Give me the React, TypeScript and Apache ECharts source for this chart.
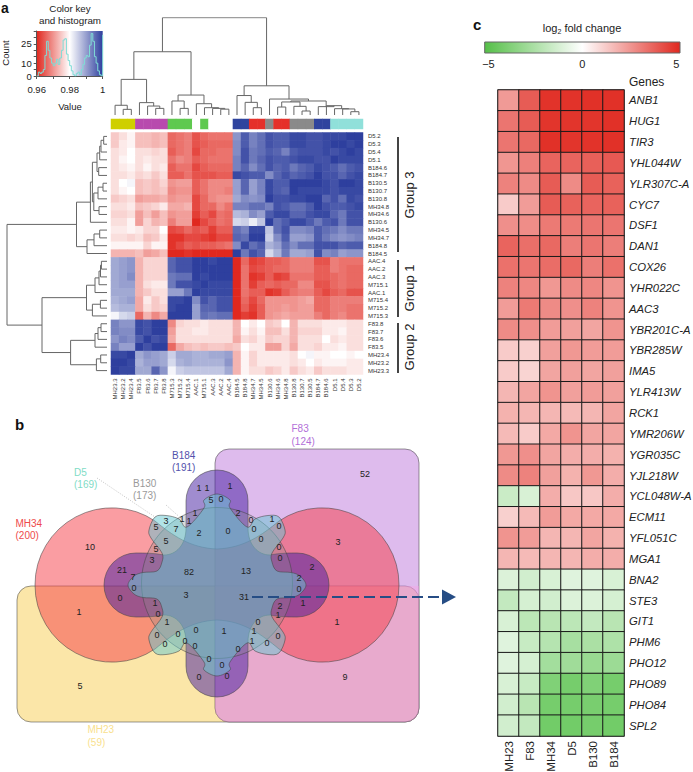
import React, { useEffect, useRef } from "react";
import * as echarts from "echarts";

const FONT = "'Liberation Sans', Arial, sans-serif";

// ---------- panel a data ----------
const sampleRows = ["D5.2","D5.3","D5.4","D5.1","B184.6","B184.7","B130.5","B130.7","B130.8","MH34.8","MH34.6","B130.6","MH34.5","MH34.7","B184.8","B184.5","AAC.4","AAC.2","AAC.3","M715.1","AAC.1","M715.4","M715.2","M715.3","F83.8","F83.7","F83.6","F83.5","MH23.4","MH23.2","MH23.3"];
const sampleCols = [...sampleRows].reverse();
// thousandths away from a correlation of 0.98 (negative: red, positive: blue)
const corrRows = [
[-5,-3,-1,-6,-6,-7,-6,-14,-13,-12,-16,-14,-13,-13,-13,11,17,13,15,18,17,17,19,19,18,18,19,19,19,20,20],
[-5,-2,-1,-6,-6,-7,-6,-14,-13,-12,-16,-15,-14,-14,-14,12,17,13,15,18,17,17,19,19,18,18,19,20,20,19,20],
[-3,-2,0,-3,-3,-4,-3,-15,-13,-12,-17,-14,-14,-13,-13,12,18,14,15,17,16,13,17,18,18,18,19,18,19,20,19],
[-3,-1,0,-3,-2,-3,-3,-13,-11,-12,-15,-14,-13,-13,-13,13,18,14,16,18,17,17,18,19,19,18,18,20,19,19,19],
[-3,-2,-1,-3,-1,-3,-2,-15,-13,-13,-17,-15,-14,-14,-14,13,16,12,15,18,16,17,14,16,17,19,18,17,15,17,18],
[-3,-3,-2,-4,-3,-5,-3,-15,-15,-13,-16,-16,-16,-15,-15,19,18,17,17,12,16,18,16,17,18,20,18,18,16,18,19],
[-3,0,1,-6,-5,-6,-4,-10,-9,-9,-15,-13,-11,-11,-11,10,16,10,13,19,17,17,20,20,20,20,19,18,20,20,19],
[-3,-1,0,-6,-5,-6,-5,-11,-10,-10,-15,-13,-11,-11,-12,10,16,10,13,19,17,16,20,19,19,19,19,18,19,19,19],
[-5,-4,-3,-9,-8,-8,-7,-10,-9,-9,-17,-14,-11,-10,-10,9,12,11,12,20,18,18,19,19,20,20,16,18,15,19,18],
[-3,-3,-2,-6,-5,-4,-2,-8,-8,-7,-17,-14,-14,-11,-13,13,13,15,15,13,18,17,15,15,17,20,18,17,17,18,19],
[-4,-4,-3,-9,-6,-9,-6,-10,-9,-9,-18,-15,-17,-13,-14,7,8,12,10,17,19,19,16,16,18,19,19,16,14,18,18],
[-3,-3,-1,-9,-4,-7,-6,-12,-9,-9,-20,-17,-15,-13,-14,4,5,2,6,20,15,17,19,19,17,14,17,18,14,18,18],
[-2,-2,-1,-2,-4,-4,0,-17,-16,-14,-16,-15,-18,-15,-15,15,13,19,19,6,15,18,12,12,13,17,15,14,12,14,14],
[-3,-3,-4,-3,-6,-5,-2,-19,-19,-17,-17,-18,-19,-17,-17,16,15,20,20,5,12,17,10,10,11,17,14,12,11,12,13],
[-1,-1,-1,-1,-4,-1,-1,-19,-17,-15,-16,-15,-15,-14,-13,12,19,15,17,8,10,15,12,15,15,18,18,18,16,17,17],
[-7,-7,-7,-6,-9,-8,-6,-20,-20,-19,-20,-20,-20,-20,-20,20,14,18,16,4,8,14,9,9,10,18,12,13,10,11,11],
[9,10,11,-7,-4,-4,-4,16,18,18,20,20,19,20,20,-20,-14,-18,-17,-15,-15,-14,-12,-12,-12,-16,-16,-12,-13,-13,-13],
[9,10,11,-7,-4,-4,-4,16,18,18,20,20,20,20,20,-20,-13,-17,-16,-15,-14,-14,-12,-12,-12,-15,-15,-12,-13,-14,-14],
[9,10,12,-7,-4,-4,-4,14,15,15,20,19,20,20,20,-20,-13,-19,-18,-15,-18,-17,-13,-13,-13,-15,-15,-14,-13,-14,-14],
[9,10,10,-7,-3,-2,-2,14,18,18,19,20,19,19,19,-20,-13,-18,-15,-14,-15,-14,-14,-11,-11,-16,-16,-14,-13,-14,-14],
[9,9,9,-7,-5,-3,-3,10,10,14,20,19,19,19,19,-20,-13,-15,-15,-19,-18,-15,-13,-12,-12,-15,-17,-15,-14,-16,-16],
[8,9,10,-8,-2,-5,-3,19,19,20,12,18,16,18,18,-20,-14,-17,-14,-10,-10,-10,-10,-9,-8,-14,-14,-12,-12,-12,-12],
[7,8,8,-8,-3,-5,-4,19,20,20,10,16,16,18,18,-20,-15,-18,-15,-10,-10,-9,-10,-9,-9,-14,-14,-12,-12,-13,-13],
[1,4,5,-14,-7,-11,-8,20,20,20,10,15,14,15,15,-20,-18,-19,-15,-10,-9,-8,-9,-9,-9,-12,-14,-12,-11,-13,-13],
[13,11,11,19,18,20,20,-11,-4,-3,-3,-2,-3,-3,-3,-7,0,-2,0,-5,-4,0,-7,-3,-3,-3,-2,-2,-2,-3,-3],
[13,12,12,19,18,20,20,-9,-3,-3,-2,-2,-3,-3,-3,-7,-1,-3,-1,-6,-6,-3,-7,-4,-4,-4,-2,-2,-1,-3,-3],
[11,13,12,17,20,18,19,-8,-3,-3,-3,-3,-3,-3,-3,-8,-3,-4,-2,-5,-4,-4,-7,-3,-3,-3,0,-3,-2,-3,-3],
[13,10,10,20,18,20,20,-14,-8,-6,-5,-6,-5,-5,-6,-5,0,-2,-2,-9,-9,-4,-8,-3,-3,-4,-2,-2,-1,-3,-3],
[19,19,20,9,11,10,9,5,9,9,8,8,9,9,10,-7,-1,-4,-2,-2,-2,-2,-3,0,1,-1,-1,0,0,-1,0],
[20,20,19,8,10,10,9,4,8,9,8,8,8,8,11,-7,-1,-4,-2,-2,-2,-2,-3,-2,0,-2,-1,-1,-1,-2,-2],
[20,19,19,9,9,16,11,1,5,6,6,6,6,6,9,-7,-1,-3,-3,-5,-4,-2,-5,-3,-2,-5,-3,-3,-3,-2,-2],
];
const clusterPalette = ["#ffffff","#cfcf00","#b84aae","#5fc94f","#2f449e","#e5302a","#8a8a8a","#90e0da"];
const clusterCodes = [1,1,1,2,2,2,2,3,3,3,0,3,0,0,0,4,4,5,5,6,5,5,6,6,6,4,4,7,7,7,7];
const histCounts = [0,3,2,3,5,16,27,20,14,10,8,10,13,9,14,20,28,29,17,12,8,4,1,0,2,3,1,5,9,14,16,15,24,33,27,15,10,4,1,0,32];

type Tree = number | [number, Tree, Tree];
// [merge height, left branch, right branch]; leaves are positions along the heat map
const topTree: Tree = [100,
  [65,
    [36.6, [10, 0, [5.8, 1, 2]], [12.7, 3, [9.2, 4, [6.8, 5, 6]]]],
    [20.5, [14.4, 7, [6.8, 8, 9]], [11.6, 10, [7.5, 11, [6.8, 12, [6, 13, 14]]]]]],
  [30,
    [20, 15, [13, 16, [7.5, 17, 18]]],
    [16.4, 19, [14.4, [13.4, [8.2, 20, 21], [8.9, 22, [4.1, 23, 24]]],
      [8.6, 25, [9.6, 26, [6.5, 27, [6.2, 28, [3.4, 29, 30]]]]]]]]];
const sideTree: Tree = [100,
  [30.5,
    [16.6,
      [14.6,
        [10, [7.3, [6, [3.3, 0, 1], 2], 3], [8.3, 4, 5]],
        [13.2, [9, [4, 6, 7], 8], [8, 9, 10]]],
      11],
    [20, [13, [7.3, 12, 13], 14], 15]],
  [65,
    [20.5,
      [12, [8, [6.5, [5.6, 16, 17], 18], 19], 20],
      [14.6, [6.6, 21, 22], 23]],
    [36.4,
      [12, [9, [6, 24, 25], 26], 27],
      [10.6, [6.3, 28, 29], 30]]]];

// ---------- panel b data ----------
const vennSets = [
  { name: "MH23", size: 59 }, { name: "F83", size: 124 }, { name: "MH34", size: 200 },
  { name: "B184", size: 191 }, { name: "B130", size: 173 }, { name: "D5", size: 169 },
];
const vennCounts = [1,1,1,5,0,2,3,5,1,1,1,7,2,0,5,5,3,10,21,7,0,82,3,0,1,1,52,3,0,1,0,0,0,0,0,2,13,2,0,31,2,1,1,1,0,1,0,1,0,0,9,0,1,0,0,0,0,0,0,1,0,0,0,0,5];
const vennAnchors = [[199,488],[207,488],[230,486],[211,500],[221,499],[238,513],[166,521],[156,527],[182,519],[189,521],[195,513],[176,529],[199,533],[228,531],[166,541],[156,549],[152,560],[90,547],[122,570],[133,577],[134,588],[189,572],[186,595],[120,598],[155,603],[79,612],[365,474],[338,542],[251,520],[272,519],[279,526],[254,529],[261,539],[279,547],[280,558],[312,567],[246,571],[299,578],[299,589],[244,597],[280,606],[303,603],[278,615],[337,622],[258,622],[254,631],[278,636],[252,641],[267,643],[238,649],[345,677],[158,614],[167,622],[157,635],[178,634],[165,644],[185,641],[196,630],[195,646],[224,631],[209,659],[222,665],[199,677],[227,676],[80,686]];

// ---------- panel c data ----------
const geneNames = ["ANB1","HUG1","TIR3","YHL044W","YLR307C-A","CYC7","DSF1","DAN1","COX26","YHR022C","AAC3","YBR201C-A","YBR285W","IMA5","YLR413W","RCK1","YMR206W","YGR035C","YJL218W","YCL048W-A","ECM11","YFL051C","MGA1","BNA2","STE3","GIT1","PHM6","PHO12","PHO89","PHO84","SPL2"];
const strainNames = ["MH23","F83","MH34","D5","B130","B184"];
const foldRows = [
[2.35,3.8,4.75,4.75,4.8,4.8],[3.2,3.8,4.7,4.7,4.7,4.8],[3.2,3.5,4.8,4.7,4.75,4.8],[2.45,2.95,3.6,3.6,3.7,3.85],
[2.9,2.7,3.8,2.7,3.8,3.65],[1.2,2.3,3.8,3.65,3.6,3.65],[2.6,2.65,3.1,3.1,3.2,3.2],[3.6,3.35,3.5,3,3.2,3],
[3.3,3.2,3.4,3.5,3,3.3],[2.9,2.8,2.4,2.7,2.8,2.5],[2.3,3.1,2.7,2.6,2.9,2.5],[2.7,2.6,2.3,2.2,2.1,2.5],
[1.2,1.1,2.2,2.4,2.3,2.3],[1.2,1,2.1,2.2,2.1,2.2],[1.7,2.1,2.5,2.2,2.3,2.2],[1.8,1.7,1.7,1.6,1.7,2.1],
[1.6,1.2,2,2.5,2.1,2.1],[2.4,2.6,2.1,1.9,1.9,1.8],[2.7,2.9,2.2,1.8,2.4,1.9],[-1.5,-1.1,1.9,1.3,1.3,1.9],
[1.1,1.6,2.3,2,2,2],[2.5,2.3,1.7,1.7,2.1,1.8],[1.7,1.6,1.7,1.7,1.9,1.9],[-1,-1.3,-1.1,-0.9,-0.9,-1.1],
[-1.7,-1.2,-1.3,-1,-1,-1.2],[-1.1,-1.9,-2,-1.9,-1.7,-2],[-0.9,-1.6,-2.1,-2.5,-2.4,-2.3],[-0.9,-1.2,-2.6,-2.7,-2.9,-2.8],
[-1.1,-1.6,-3.6,-3.9,-3.6,-3.9],[-1.3,-2,-3.9,-3.9,-3.8,-3.9],[-1.3,-1.7,-4,-4,-3.9,-4],
];

// ---------- helpers ----------
function dendro(node: Tree, out: number[][][]): { pos: number; h: number } {
  if (typeof node === "number") return { pos: node + 0.5, h: 0 };
  const a = dendro(node[1], out);
  const b = dendro(node[2], out);
  out.push([[a.pos, a.h], [a.pos, node[0]], [b.pos, node[0]], [b.pos, b.h]]);
  return { pos: (a.pos + b.pos) / 2, h: node[0] };
}
function catmull(points: number[][]): string {
  const n = points.length;
  let d = `M${points[0][0]},${points[0][1]}`;
  for (let i = 0; i < n; i++) {
    const p0 = points[(i - 1 + n) % n], p1 = points[i], p2 = points[(i + 1) % n], p3 = points[(i + 2) % n];
    d += `C${p1[0] + (p2[0] - p0[0]) / 6},${p1[1] + (p2[1] - p0[1]) / 6},${p2[0] - (p3[0] - p1[0]) / 6},${p2[1] - (p3[1] - p1[1]) / 6},${p2[0]},${p2[1]}`;
  }
  return d + "Z";
}
const d5Octant = [[-89,0],[-83,-9],[-74,-12.5],[-60,-14],[-55,-23],[-55,-32],[-66,-47],[-68,-55],[-62,-68],[-51,-69.5],[-38,-66],[-30,-58],[-13,-77],[-13,-85]];
function d5Path(cx: number, cy: number): string {
  const nw = d5Octant;
  const ne = [[0,-91],...[...nw].reverse().slice(0,-1).map((p) => [-p[0], p[1]])];
  const se = [[89,0],...nw.slice(1).map((p) => [-p[0], -p[1]])];
  const sw = [[0,91],...[...nw].reverse().slice(0,-1).map((p) => [p[0], -p[1]])];
  return catmull([...nw, ...ne, ...se, ...sw].map((p) => [p[0] + cx, p[1] + cy]));
}
const redPath = "M35 585A77 77 0 0 1 155 521C172 535 190 548 217 549C244 548 262 535 279 521A77 77 0 0 1 399 585A77 77 0 0 1 279 649C262 635 244 621 217 620C190 621 172 635 155 649A77 77 0 0 1 35 585Z";
const crossPath = "M186 501A31 31 0 0 1 248 501L248 528C248 545 258 555 270 555C280 553 290 553 297 553A32 32 0 0 1 297 617C290 617 280 617 270 615C258 615 248 625 248 642L248 666A31 31 0 0 1 186 666L186 642C186 625 176 615 164 615C154 617 144 617 136 617A32 32 0 0 1 136 553C144 553 154 553 164 555C176 555 186 545 186 528Z";
echarts.graphic.registerShape("vennRed", echarts.graphic.extendPath(redPath, {}) as any);
echarts.graphic.registerShape("vennCross", echarts.graphic.extendPath(crossPath, {}) as any);
echarts.graphic.registerShape("vennCog", echarts.graphic.extendPath(d5Path(217, 585), {}) as any);

const txt = (text: string, x: number, y: number, size: number, color = "#222", extra: any = {}) => ({
  type: "text", x, y, silent: true, rotation: extra.rotation || 0,
  style: { text, fontSize: size, fontFamily: FONT, fill: color, align: extra.align || "center", verticalAlign: "middle", fontWeight: extra.weight || "normal", rich: extra.rich },
});
const edge = "rgba(70,70,70,0.55)";

function buildOption(): any {
  const topSegs: number[][][] = [], sideSegs: number[][][] = [];
  dendro(topTree, topSegs);
  dendro(sideTree, sideSegs);

  const corrData: number[][] = [];
  corrRows.forEach((row, r) => row.forEach((v, c) => corrData.push([c, r, 0.98 + v / 1000])));
  const foldData: number[][] = [];
  foldRows.forEach((row, r) => row.forEach((v, c) => foldData.push([c, r, v])));

  const size = (name: string) => vennSets.find((s) => s.name === name)!;
  const setLabel = (name: string, x: number, y: number, color: string) => [
    txt(name, x, y, 10, color, { align: "left" }),
    txt(`(${size(name).size})`, x, y + 12.5, 10, color, { align: "left" }),
  ];

  const hide = { show: false };
  const free = { outerBoundsMode: "none" };
  const graphics: any[] = [
    txt("a", 1, 8, 14, "#111", { align: "left", weight: "bold" }),
    txt("b", 15, 424, 15, "#111", { align: "left", weight: "bold" }),
    txt("c", 473, 24, 15, "#111", { align: "left", weight: "bold" }),
    txt("Color key", 70, 8, 9.8), txt("and histogram", 70, 20, 9.8),
    txt("Count", 5, 53, 9.5, "#222", { rotation: Math.PI / 2 }),
    txt("Value", 70, 106, 9.5),
    // group brackets
    { type: "line", silent: true, shape: { x1: 398, y1: 137, x2: 398, y2: 252 }, style: { stroke: "#444", lineWidth: 2 } },
    { type: "line", silent: true, shape: { x1: 398, y1: 260, x2: 398, y2: 317 }, style: { stroke: "#444", lineWidth: 2 } },
    { type: "line", silent: true, shape: { x1: 398, y1: 323, x2: 398, y2: 373 }, style: { stroke: "#444", lineWidth: 2 } },
    txt("Group 3", 409, 195, 13, "#222", { rotation: Math.PI / 2 }),
    txt("Group 1", 409, 288, 13, "#222", { rotation: Math.PI / 2 }),
    txt("Group 2", 409, 347, 13, "#222", { rotation: Math.PI / 2 }),
    // venn
    { type: "rect", silent: true, shape: { x: 17, y: 586, width: 402, height: 136, r: 14 }, style: { fill: "rgba(249,213,110,0.6)", stroke: edge, lineWidth: 1 } },
    { type: "rect", silent: true, shape: { x: 215, y: 449, width: 204, height: 273, r: 14 }, style: { fill: "rgba(190,120,220,0.5)", stroke: edge, lineWidth: 1 } },
    { type: "rect", silent: true, shape: { x: 215, y: 586, width: 204, height: 136, r: [0, 0, 14, 14] }, style: { fill: "rgba(255,160,225,0.35)" } },
    { type: "vennRed", silent: true, x: 0, y: 0, style: { fill: "rgba(245,60,70,0.5)", stroke: edge, lineWidth: 1 } },
    { type: "vennCross", silent: true, x: 0, y: 0, style: { fill: "rgba(65,25,160,0.5)", stroke: edge, lineWidth: 1 } },
    { type: "circle", silent: true, shape: { cx: 217, cy: 583, r: 75.5 }, style: { fill: "rgba(140,140,140,0.3)", stroke: edge, lineWidth: 1 } },
    { type: "vennCog", silent: true, x: 0, y: 0, style: { fill: "rgba(100,200,210,0.5)", stroke: edge, lineWidth: 1 } },
    { type: "line", silent: true, shape: { x1: 97, y1: 478, x2: 155, y2: 517 }, style: { stroke: "#c4c4c4", lineWidth: 1, lineDash: [1, 1.5] } },
    { type: "line", silent: true, shape: { x1: 166, y1: 505, x2: 183, y2: 520 }, style: { stroke: "#c4c4c4", lineWidth: 1, lineDash: [1, 1.5] } },
    ...setLabel("D5", 74, 472, "#7fdcc6"),
    ...setLabel("B130", 133, 483, "#9a9a9a"),
    ...setLabel("B184", 172, 455, "#5252ac"),
    ...setLabel("MH34", 15.5, 523, "#ee4a4c"),
    ...setLabel("F83", 291.5, 428.5, "#b26fd8"),
    ...setLabel("MH23", 87.5, 729.5, "#f9df8e"),
    ...vennCounts.map((v, i) => txt(String(v), vennAnchors[i][0], vennAnchors[i][1], 9, "#222")),
    { type: "line", silent: true, shape: { x1: 252, y1: 597, x2: 444, y2: 597 }, style: { stroke: "#264d85", lineWidth: 2, lineDash: [11, 5] } },
    { type: "polygon", silent: true, shape: { points: [[442, 589.5], [456, 597], [442, 604.5]] }, style: { fill: "#264d85" } },
    // panel c
    txt("log{s|2} fold change", 582, 28, 11, "#222", { rich: { s: { fontSize: 7, fontFamily: FONT, fill: "#222", padding: [7, 0, 0, 0] } } }),
    txt("Genes", 629, 82, 12, "#222", { align: "left" }),
    { type: "rect", silent: true, shape: { x: 498, y: 90, width: 126, height: 646 }, style: { fill: "none", stroke: "#9a9a9a", lineWidth: 1.5 } },
  ];

  return {
    animation: false,
    backgroundColor: "#fff",
    textStyle: { fontFamily: FONT },
    grid: [
      { ...free, left: 36.7, top: 31, width: 66, height: 45, show: true, borderWidth: 0,
        backgroundColor: { type: "linear", x: 0, y: 0, x2: 1, y2: 0, colorStops: [
          { offset: 0, color: "#e0281f" }, { offset: 0.5, color: "#ffffff" }, { offset: 1, color: "#2e3f9e" } ] } },
      { ...free, left: 111, top: 17.67, width: 252, height: 97.33 },
      { ...free, left: 111, top: 119, width: 252, height: 10 },
      { ...free, left: 7, top: 132.5, width: 100, height: 242 },
      { ...free, left: 111, top: 132.5, width: 252, height: 242 },
      { ...free, left: 484.7, top: 42, width: 195.3, height: 11, show: true, borderColor: "#666", borderWidth: 1,
        backgroundColor: { type: "linear", x: 0, y: 0, x2: 1, y2: 0, colorStops: [
          { offset: 0, color: "#55bf48" }, { offset: 0.5, color: "#ffffff" }, { offset: 1, color: "#e0281f" } ] } },
      { ...free, left: 498, top: 90, width: 126, height: 646 },
    ],
    xAxis: [
      { gridIndex: 0, type: "value", min: 0.96, max: 1, interval: 0.01,
        axisLine: { show: true, onZero: false, lineStyle: { color: "#555" } }, axisTick: { show: true, length: 3, lineStyle: { color: "#555" } }, splitLine: hide,
        axisLabel: { fontSize: 9.5, color: "#222", margin: 8, showMinLabel: true, showMaxLabel: true, formatter: (v: number) => { const k = Math.round(v * 100); return k === 100 ? "1" : k % 2 === 0 ? (k / 100).toFixed(2) : ""; } } },
      { gridIndex: 1, type: "value", min: 0, max: 31, show: false },
      { gridIndex: 2, type: "category", data: sampleCols, show: false },
      { gridIndex: 3, type: "value", min: 0, max: 100, inverse: true, show: false },
      { gridIndex: 4, type: "category", data: sampleCols, position: "bottom", axisLine: hide, axisTick: hide,
        axisLabel: { interval: 0, rotate: 90, fontSize: 6, color: "#333", margin: 4 } },
      { gridIndex: 5, type: "value", min: -5.2, max: 5.2, axisLine: hide, axisTick: hide, splitLine: hide,
        axisLabel: { customValues: [-5, 0, 5], fontSize: 11, color: "#222", margin: 5, formatter: (v: number) => (v < 0 ? "\u2212" + -v : String(v)) } },
      { gridIndex: 6, type: "category", data: strainNames, position: "bottom", axisLine: hide, axisTick: hide,
        axisLabel: { interval: 0, rotate: 90, fontSize: 11.5, color: "#222", margin: 5 } },
    ],
    yAxis: [
      { gridIndex: 0, type: "value", min: 0, max: 35, interval: 5,
        axisLine: { show: true, lineStyle: { color: "#555" } }, axisTick: { show: true, length: 3, lineStyle: { color: "#555" } }, splitLine: hide,
        axisLabel: { fontSize: 9.5, color: "#222", margin: 5, formatter: (v: number) => ([0, 10, 25].includes(v) ? String(v) : "") } },
      { gridIndex: 1, type: "value", min: 0, max: 100, show: false },
      { gridIndex: 2, type: "category", data: ["cluster"], show: false },
      { gridIndex: 3, type: "value", min: 0, max: 31, inverse: true, show: false },
      { gridIndex: 4, type: "category", data: sampleRows, inverse: true, position: "right", axisLine: hide, axisTick: hide,
        axisLabel: { interval: 0, fontSize: 6, color: "#333", margin: 5 } },
      { gridIndex: 5, type: "value", show: false },
      { gridIndex: 6, type: "category", data: geneNames, inverse: true, position: "right", axisLine: hide, axisTick: hide,
        axisLabel: { interval: 0, fontSize: 11.3, fontStyle: "italic", color: "#222", margin: 5 } },
    ],
    visualMap: [
      { type: "continuous", show: false, seriesIndex: 4, dimension: 2, min: 0.96, max: 1, inRange: { color: ["#e0281f", "#ffffff", "#2e3f9e"] } },
      { type: "continuous", show: false, seriesIndex: 5, dimension: 2, min: -5, max: 5, inRange: { color: ["#4fbf42", "#ffffff", "#e0281f"] } },
      { type: "piecewise", show: false, seriesIndex: 2, dimension: 2, pieces: clusterPalette.map((color, value) => ({ value, color })) },
    ],
    series: [
      { type: "line", xAxisIndex: 0, yAxisIndex: 0, step: "end", symbol: "none", silent: true, z: 3,
        data: histCounts.map((c, i) => [0.96 + i * 0.001, c]), lineStyle: { color: "#7fdcd6", width: 1 } },
      { type: "lines", coordinateSystem: "cartesian2d", xAxisIndex: 1, yAxisIndex: 1, polyline: true, silent: true,
        lineStyle: { color: "#666", width: 1, opacity: 1 }, data: topSegs.map((coords) => ({ coords })) },
      { type: "heatmap", xAxisIndex: 2, yAxisIndex: 2, silent: true, data: clusterCodes.map((code, i) => [i, 0, code]) },
      { type: "lines", coordinateSystem: "cartesian2d", xAxisIndex: 3, yAxisIndex: 3, polyline: true, silent: true,
        lineStyle: { color: "#666", width: 1, opacity: 1 },
        data: sideSegs.map((s) => ({ coords: s.map((p) => [p[1], p[0]]) })) },
      { type: "heatmap", xAxisIndex: 4, yAxisIndex: 4, silent: true, data: corrData, itemStyle: { borderWidth: 0 } },
      { type: "heatmap", xAxisIndex: 6, yAxisIndex: 6, silent: true, data: foldData, itemStyle: { borderWidth: 1, borderColor: "#1a1a1a" } },
    ],
    graphic: { elements: graphics },
  };
}

export default function App() {
  const ref = useRef<HTMLDivElement>(null);
  useEffect(() => {
    document.body.style.margin = "0";
    const chart = echarts.init(ref.current!, undefined, { renderer: "svg", width: 693, height: 772 });
    chart.setOption(buildOption());
    return () => chart.dispose();
  }, []);
  return <div ref={ref} style={{ position: "absolute", left: 0, top: 0, width: 693, height: 772, overflow: "hidden" }} />;
}
